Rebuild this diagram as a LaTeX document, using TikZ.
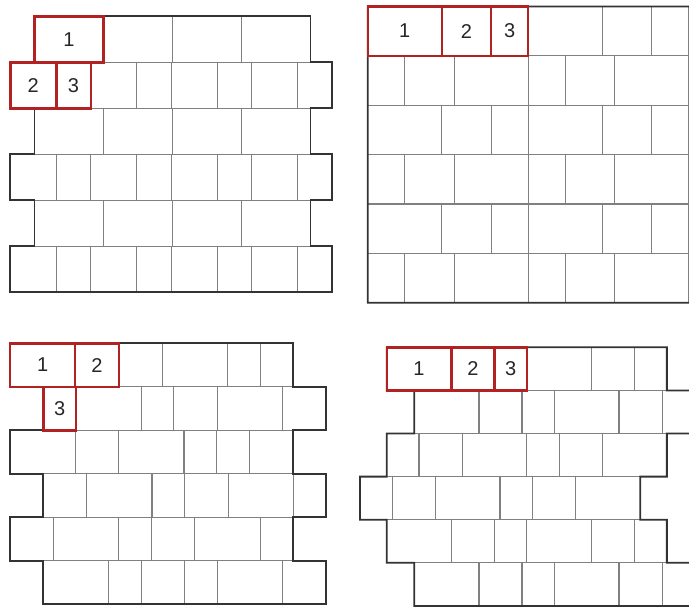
\documentclass[tikz,border=0pt]{standalone}
\usepackage{fontspec}
\setmainfont{Liberation Sans}
\usepackage{tikz}
\usetikzlibrary{fit}

\definecolor{numred}{RGB}{178,34,34}

\newcommand{\brickrow}[4]{%
  \xdef\brkx{#2}
  \coordinate (#1-tl) at (#2,#3);
  \coordinate (#1-bl) at (#2,#3+\brkh);
  \foreach \t [count=\i] in {#4} {
    \pgfmathsetmacro\brkw{\t==1 ? 1.5*\brkh : (\t==2 ? \brkh : 0.75*\brkh)}
    \node[brick, minimum width=\brkw pt, minimum height=\brkh pt] (#1b\i) at (\brkx,#3) {};
    \pgfmathparse{\brkx+\brkw}\xdef\brkx{\pgfmathresult}
  }
  \coordinate (#1-tr) at (\brkx,#3);
  \coordinate (#1-br) at (\brkx,#3+\brkh);
}

\begin{document}
\begin{tikzpicture}[
            x=1pt, y=-1pt,
            brick/.style={draw=black!50, line width=1.2pt, fill=white,
                anchor=north west, inner sep=0pt, outer sep=0pt},
            outline/.style={draw=black!80, line width=1.8pt},
            numbrick/.style={draw=numred, line width=2.4pt, inner sep=0pt},
            every label/.style={text=black!85, inner sep=0pt,
                font=\fontsize{20}{20}\selectfont}]

        \useasboundingbox (0,0) rectangle (689,608);
        \clip (0,0) rectangle (689,608);

        \def\brkh{46}
        \brickrow{p1r1}{34.5}{16.3}{1,1,1,1}
        \brickrow{p1r2}{10.3}{62.3}{2,3,2,3,2,3,2,3}
        \brickrow{p1r3}{34.5}{108.3}{1,1,1,1}
        \brickrow{p1r4}{10.3}{154.3}{2,3,2,3,2,3,2,3}
        \brickrow{p1r5}{34.5}{200.3}{1,1,1,1}
        \brickrow{p1r6}{10.3}{246.3}{2,3,2,3,2,3,2,3}

        \def\brkh{49.4}
        \brickrow{p2r1}{367.7}{6.4}{1,2,3,1,2,3,1}
        \brickrow{p2r2}{367.7}{55.8}{3,2,1,3,2,1,3}
        \brickrow{p2r3}{367.7}{105.2}{1,2,3,1,2,3,1}
        \brickrow{p2r4}{367.7}{154.6}{3,2,1,3,2,1,3}
        \brickrow{p2r5}{367.7}{204}{1,2,3,1,2,3,1}
        \brickrow{p2r6}{367.7}{253.4}{3,2,1,3,2,1,3}

        \def\brkh{43.5}
        \brickrow{p3r1}{10}{343.3}{1,2,2,1,3,3}
        \brickrow{p3r2}{43.3}{386.8}{3,1,3,2,1,2}
        \brickrow{p3r3}{10}{430.3}{1,2,1,3,3,2}
        \brickrow{p3r4}{43.3}{473.8}{2,1,3,2,1,3}
        \brickrow{p3r5}{10}{517.3}{2,1,3,2,1,3}
        \brickrow{p3r6}{43.3}{560.8}{1,3,2,3,1,2}

        \def\brkh{43.1}
        \brickrow{p4r1}{386.7}{347.3}{1,2,3,1,2,3}
        \brickrow{p4r2}{414.3}{390.4}{1,2,3,1,2,3}
        \brickrow{p4r3}{386.7}{433.5}{3,2,1,3,2,1}
        \brickrow{p4r4}{360}{476.6}{3,2,1,3,2,1}
        \brickrow{p4r5}{386.7}{519.7}{1,2,3,1,2,3}
        \brickrow{p4r6}{414.3}{562.8}{1,2,3,1,2,3}

        \foreach \p in {1,...,4}
            \draw[outline] (p\p r1-tl)
                foreach \r in {1,...,6} { -- (p\p r\r-tr) -- (p\p r\r-br) }
                foreach \r in {6,...,1} { -- (p\p r\r-bl) -- (p\p r\r-tl) } -- cycle;

        \node[numbrick, fit=(p1r1b1), label=center:1] (p1n1) {};
        \node[numbrick, fit=(p1r2b1), label=center:2] (p1n2) {};
        \node[numbrick, fit=(p1r2b2), label=center:3] (p1n3) {};

        \node[numbrick, fit=(p2r1b1), label=center:1] (p2n1) {};
        \node[numbrick, fit=(p2r1b2), label=center:2] (p2n2) {};
        \node[numbrick, fit=(p2r1b3), label=center:3] (p2n3) {};

        \node[numbrick, fit=(p3r1b1), label=center:1] (p3n1) {};
        \node[numbrick, fit=(p3r1b2), label=center:2] (p3n2) {};
        \node[numbrick, fit=(p3r2b1), label=center:3] (p3n3) {};

        \node[numbrick, fit=(p4r1b1), label=center:1] (p4n1) {};
        \node[numbrick, fit=(p4r1b2), label=center:2] (p4n2) {};
        \node[numbrick, fit=(p4r1b3), label=center:3] (p4n3) {};

    \end{tikzpicture}
\end{document}
